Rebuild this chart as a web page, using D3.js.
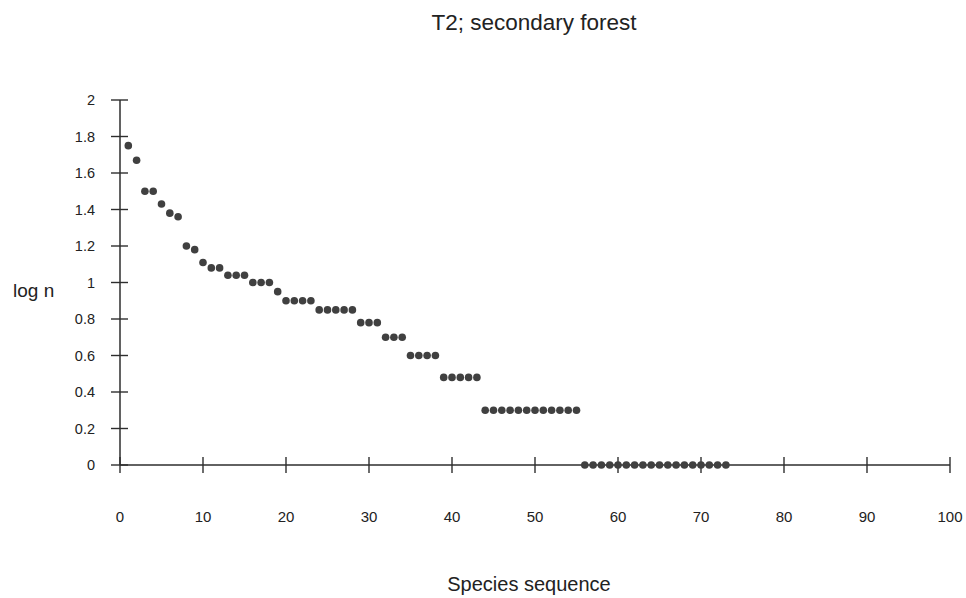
<!DOCTYPE html>
<html>
<head>
<meta charset="utf-8">
<script src="https://cdn.jsdelivr.net/npm/d3@7"></script>
<style>
  body { margin: 0; background: #fff; }
  svg { display: block; font-family: Arial, "Liberation Sans", sans-serif; }
</style>
</head>
<body>
<div id="chart"></div>
<script>
// log n of each species, in rank order (species 1..73)
const logN = [
  1.75, 1.67, 1.5, 1.5, 1.43, 1.38, 1.36, 1.2, 1.18, 1.11,
  1.08, 1.08, 1.04, 1.04, 1.04, 1.0, 1.0, 1.0, 0.95, 0.9,
  0.9, 0.9, 0.9, 0.85, 0.85, 0.85, 0.85, 0.85, 0.78, 0.78,
  0.78, 0.7, 0.7, 0.7, 0.6, 0.6, 0.6, 0.6, 0.48, 0.48,
  0.48, 0.48, 0.48, 0.3, 0.3, 0.3, 0.3, 0.3, 0.3, 0.3,
  0.3, 0.3, 0.3, 0.3, 0.3, 0, 0, 0, 0, 0,
  0, 0, 0, 0, 0, 0, 0, 0, 0, 0,
  0, 0, 0
];
const xTicks = [0, 10, 20, 30, 40, 50, 60, 70, 80, 90, 100];
const yTicks = [0, 0.2, 0.4, 0.6, 0.8, 1, 1.2, 1.4, 1.6, 1.8, 2];

const W = 966, H = 598;
const ink = '#2e2e2e';

const svg = d3.select('#chart').append('svg')
    .attr('width', W)
    .attr('height', H);

const x = d3.scaleLinear().domain([0, 100]).range([120, 950]);
const y = d3.scaleLinear().domain([0, 2]).range([465, 100]);

// y axis: line + crossing ticks
svg.append('line')
    .attr('x1', x(0)).attr('x2', x(0))
    .attr('y1', y(2)).attr('y2', y(0))
    .attr('stroke', ink).attr('stroke-width', 1.5);

svg.selectAll('.ytick')
    .data(yTicks)
    .enter()
    .append('line')
    .attr('x1', x(0) - 9).attr('x2', x(0) + 8)
    .attr('y1', d => y(d)).attr('y2', d => y(d))
    .attr('stroke', ink).attr('stroke-width', 1.4);

svg.selectAll('.ylab')
    .data(yTicks)
    .enter()
    .append('text')
    .attr('x', 95)
    .attr('y', d => y(d) + 5)
    .attr('text-anchor', 'end')
    .style('font-size', '14.5px')
    .attr('fill', '#222')
    .text(d => d);

// x axis
svg.append('line')
    .attr('x1', x(0)).attr('x2', x(100))
    .attr('y1', y(0)).attr('y2', y(0))
    .attr('stroke', ink).attr('stroke-width', 1.5);

svg.selectAll('.xtick')
    .data(xTicks)
    .enter()
    .append('line')
    .attr('x1', d => x(d)).attr('x2', d => x(d))
    .attr('y1', y(0) - 8).attr('y2', y(0) + 8)
    .attr('stroke', ink).attr('stroke-width', 1.4);

svg.selectAll('.xlab')
    .data(xTicks)
    .enter()
    .append('text')
    .attr('x', d => x(d))
    .attr('y', 522)
    .attr('text-anchor', 'middle')
    .style('font-size', '15px')
    .attr('fill', '#222')
    .text(d => d);

// points
svg.selectAll('.pt')
    .data(logN)
    .enter()
    .append('circle')
    .attr('cx', (d, i) => x(i + 1))
    .attr('cy', d => y(d))
    .attr('r', 3.8)
    .attr('fill', '#404040');

// labels
svg.append('text')
    .attr('x', 534)
    .attr('y', 30)
    .attr('text-anchor', 'middle')
    .style('font-size', '22.5px')
    .attr('fill', '#222')
    .text('T2; secondary forest');

svg.append('text')
    .attr('x', 13)
    .attr('y', 297)
    .style('font-size', '19px')
    .attr('fill', '#222')
    .text('log n');

svg.append('text')
    .attr('x', 529)
    .attr('y', 591)
    .attr('text-anchor', 'middle')
    .style('font-size', '20px')
    .attr('fill', '#222')
    .text('Species sequence');
</script>
</body>
</html>
